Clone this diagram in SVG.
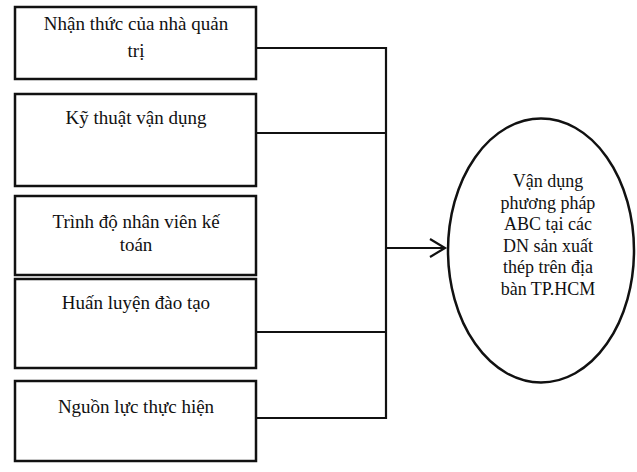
<svg xmlns="http://www.w3.org/2000/svg" width="637" height="472" viewBox="0 0 637 472">
<style>
.box{fill:#fff;stroke:#111;stroke-width:2.5}
.t{font-family:"Liberation Serif","Times New Roman",serif;font-size:19px;fill:#111;text-anchor:middle}
.e{font-family:"Liberation Serif","Times New Roman",serif;font-size:18px;fill:#111;text-anchor:middle}
.c{fill:none;stroke:#111;stroke-width:2.2}
</style>
<rect width="637" height="472" fill="#fff"/>
<g id="connectors">
<polyline class="c" points="256,48 386,48 386,418 256,418"/>
<line class="c" x1="256" y1="133" x2="386" y2="133"/>
<line class="c" x1="256" y1="332" x2="386" y2="332"/>
<line class="c" x1="386" y1="248" x2="444" y2="248"/>
<polyline class="c" points="430,239 445,248 430,257" stroke-width="2.6"/>
</g>
<g id="n1"><rect class="box" x="15" y="7" width="241" height="72"/>
<text class="t" x="136" y="30">Nhận thức của nhà quản</text><text class="t" x="136" y="57">trị</text></g>
<g id="n2"><rect class="box" x="15" y="94" width="241" height="92"/>
<text class="t" x="136" y="124">Kỹ thuật vận dụng</text></g>
<g id="n3"><rect class="box" x="15" y="196" width="241" height="79"/>
<text class="t" x="136" y="228">Trình độ nhân viên kế</text><text class="t" x="136" y="251">toán</text></g>
<g id="n4"><rect class="box" x="15" y="279" width="241" height="89"/>
<text class="t" x="136" y="309">Huấn luyện đào tạo</text></g>
<g id="n5"><rect class="box" x="15" y="381" width="241" height="80"/>
<text class="t" x="136" y="413">Nguồn lực thực hiện</text></g>
<g id="target"><ellipse cx="541" cy="250.5" rx="93" ry="132" fill="#fff" stroke="#111" stroke-width="2.5"/>
<text class="e" x="548" y="187">Vận dụng</text>
<text class="e" x="548" y="208.5">phương pháp</text>
<text class="e" x="548" y="230">ABC tại các</text>
<text class="e" x="548" y="251.5">DN sản xuất</text>
<text class="e" x="548" y="273">thép trên địa</text>
<text class="e" x="548" y="294.5">bàn TP.HCM</text></g>
</svg>
